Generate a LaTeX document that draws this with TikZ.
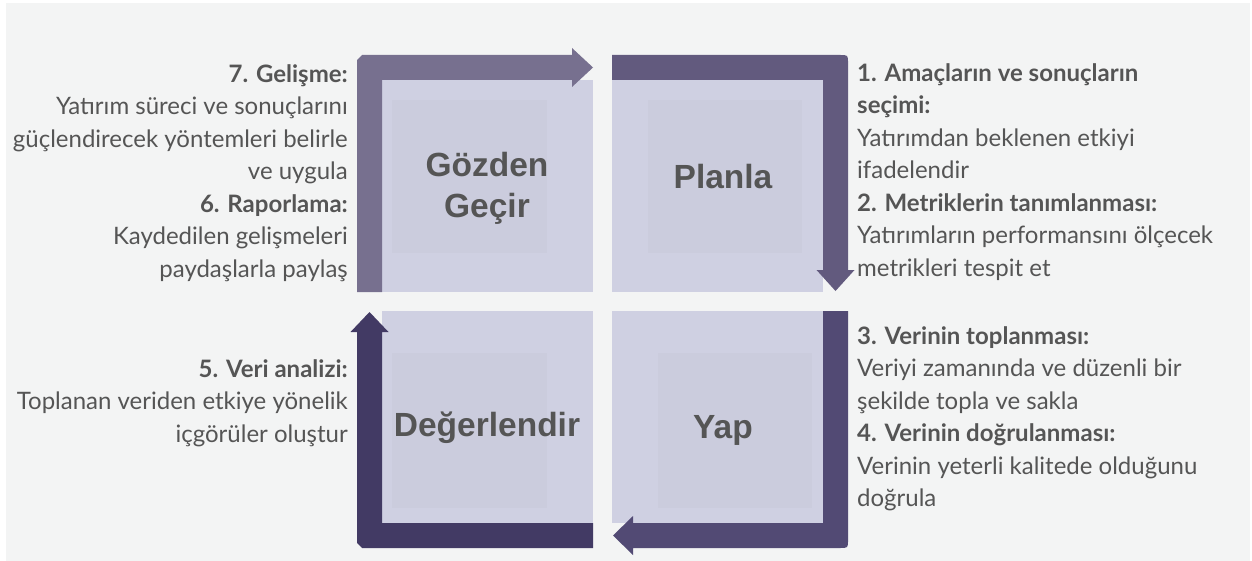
\documentclass[tikz,border=0pt]{standalone}
\usepackage{fontspec}
\setmainfont{Lato}
\newfontfamily\labelfont{Liberation Sans}
\definecolor{bg}{HTML}{F3F4F4}
\definecolor{txt}{HTML}{555555}
\definecolor{lite}{HTML}{CFD0E2}
\definecolor{inner}{HTML}{CBCCDD}
\definecolor{bandTL}{HTML}{77708F}
\definecolor{bandTR}{HTML}{625A7E}
\definecolor{bandBL}{HTML}{423A64}
\definecolor{bandBR}{HTML}{524A74}
\begin{document}
\begin{tikzpicture}[x=1pt,y=-1pt,
  quad/.style={font=\labelfont\bfseries\fontsize{33.5}{38}\selectfont, text=txt, align=center, inner sep=0},
  bodyR/.style={font=\fontsize{24}{32.5}\selectfont, text=txt, align=right, inner sep=0, anchor=north east},
  bodyL/.style={font=\fontsize{24}{32.5}\selectfont, text=txt, align=left, inner sep=0, anchor=north west}]
\useasboundingbox (0,0) rectangle (1252,561);
\fill[white] (0,0) rectangle (1252,561);
\fill[bg] (6,3) rectangle (1250,561);
% light quadrants
\fill[lite] (382,80) rectangle (593,292);
\fill[lite] (612,80) rectangle (823,292);
\fill[lite] (382,311) rectangle (593,523);
\fill[lite] (612,311) rectangle (823,523);
% inner squares
\fill[inner] (392,100) rectangle (547,253);
\fill[inner] (648,100) rectangle (802,253);
\fill[inner] (392,353) rectangle (547,508);
\fill[inner] (658,353) rectangle (812,508);
% bands
\fill[bandTL] (357,292) -- (357,60) -- (362,55) -- (572,55) -- (572,48) -- (593,67.5) -- (572,87) -- (572,80) -- (382,80) -- (382,292) -- cycle;
\fill[bandTR] (612,55) -- (840,55) .. controls (848,55) .. (848,63) -- (848,270) -- (854.5,270) -- (835.5,291) -- (816.5,270) -- (823,270) -- (823,80) -- (612,80) -- cycle;
\fill[bandBL] (357,332) -- (350.5,332) -- (369.5,312) -- (388.5,332) -- (382,332) -- (382,523) -- (593,523) -- (593,548) -- (362,548) -- (357,543) -- cycle;
\fill[bandBR] (848,311) -- (848,540) .. controls (848,548) .. (840,548) -- (633,548) -- (633,555) -- (613,535.5) -- (633,516) -- (633,523) -- (823,523) -- (823,311) -- cycle;
% quadrant labels
\node[quad] (gozden) at (487,188) {Gözden\\[3pt]Geçir};
\node[quad] (planla) at (723,177) {Planla};
\node[quad] (deger) at (487,428) {Değerlendir};
\node[quad] (yap) at (723,430) {Yap};
% texts
\node[bodyR] (tl) at (348,64) {\textbf{7. Gelişme:}\\Yatırım süreci ve sonuçlarını\\güçlendirecek yöntemleri belirle\\ve uygula\\\textbf{6. Raporlama:}\\Kaydedilen gelişmeleri\\paydaşlarla paylaş};
\node[bodyL] (tr) at (857,63) {\textbf{1. Amaçların ve sonuçların}\\\textbf{seçimi:}\\Yatırımdan beklenen etkiyi\\ifadelendir\\\textbf{2. Metriklerin tanımlanması:}\\Yatırımların performansını ölçecek\\metrikleri tespit et};
\node[bodyR] (bl) at (348,359) {\textbf{5. Veri analizi:}\\Toplanan veriden etkiye yönelik\\içgörüler oluştur};
\node[bodyL] (br) at (857,326) {\textbf{3. Verinin toplanması:}\\Veriyi zamanında ve düzenli bir\\şekilde topla ve sakla\\\textbf{4. Verinin doğrulanması:}\\Verinin yeterli kalitede olduğunu\\doğrula};
\end{tikzpicture}
\end{document}
